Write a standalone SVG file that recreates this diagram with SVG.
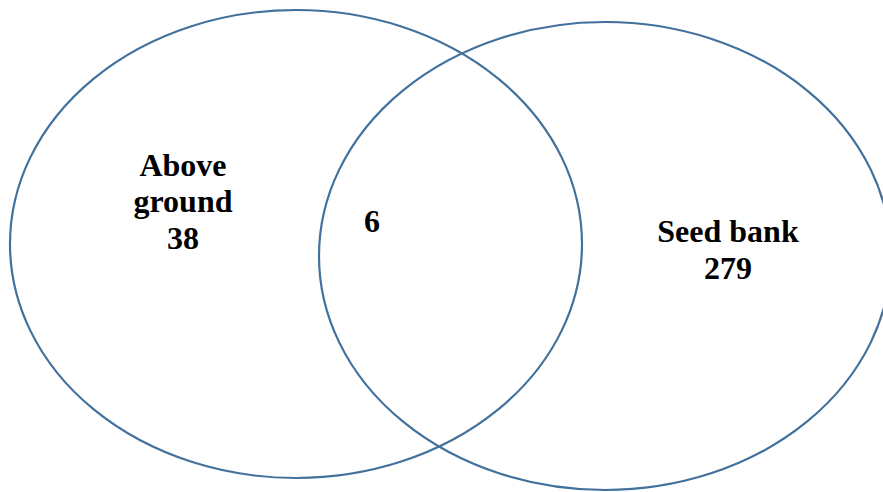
<svg xmlns="http://www.w3.org/2000/svg" width="883" height="492" viewBox="0 0 883 492">
<style>
.set{fill:none;stroke:#41719C;stroke-width:2.2}
.lbl{font-family:"Liberation Serif","Times New Roman",serif;font-weight:bold;font-size:32px;fill:#000;text-anchor:middle}
</style>
<rect width="883" height="492" fill="#fff"/>
<g id="above-ground">
<ellipse class="set" cx="296" cy="244" rx="286" ry="234"/>
<text class="lbl" x="183" y="176">Above</text>
<text class="lbl" x="183" y="212">ground</text>
<text class="lbl" x="183" y="249">38</text>
</g>
<g id="seed-bank">
<ellipse class="set" cx="605" cy="256" rx="286" ry="234"/>
<text class="lbl" x="728" y="242">Seed bank</text>
<text class="lbl" x="728" y="279">279</text>
</g>
<g id="overlap">
<text class="lbl" x="372" y="232">6</text>
</g>
<g id="connectors"/>
</svg>
